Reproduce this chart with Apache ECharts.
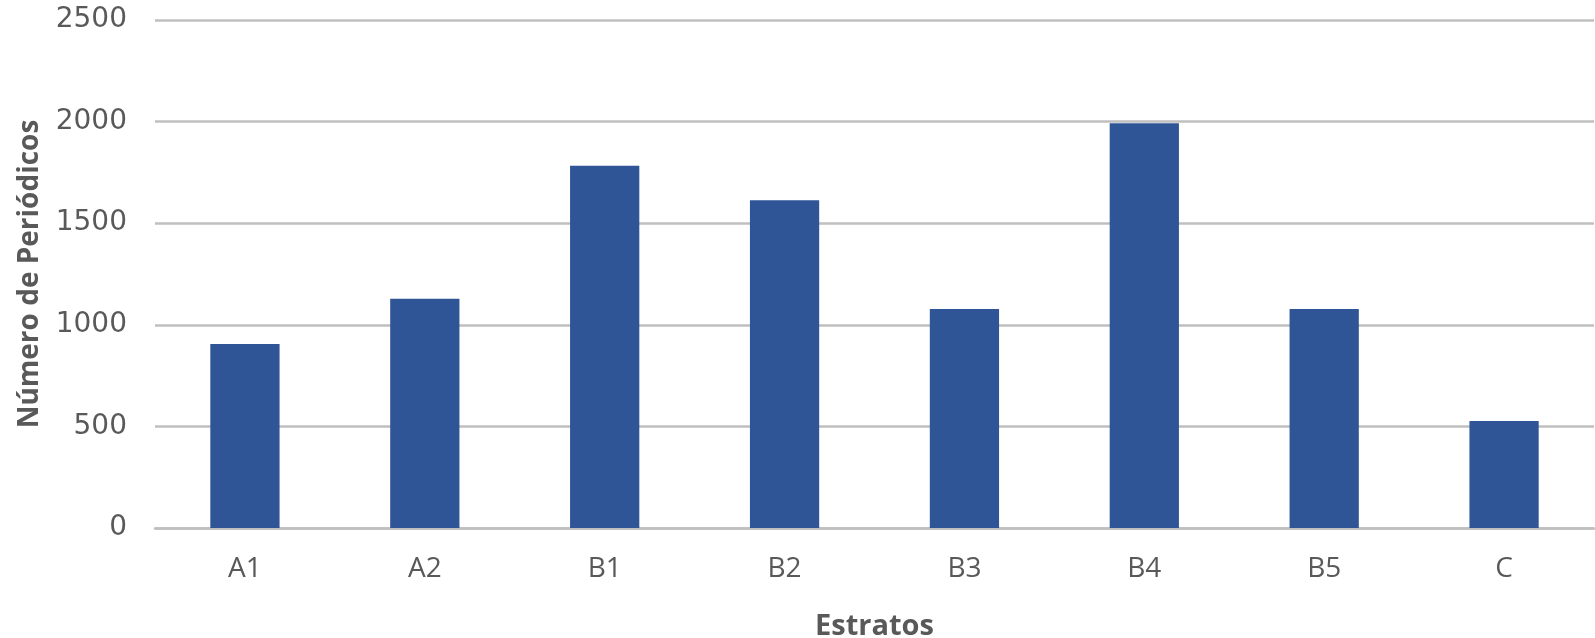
<!DOCTYPE html>
<html>
<head>
<meta charset="utf-8">
<script src="https://cdn.jsdelivr.net/npm/echarts@6/dist/echarts.min.js"></script>
<style>html,body{margin:0;padding:0;background:#fff;}#c{width:1595px;height:638px;}</style>
</head>
<body>
<div id="c"></div>
<script>
const categories = ['A1', 'A2', 'B1', 'B2', 'B3', 'B4', 'B5', 'C'];
const values = [905, 1128, 1783, 1613, 1078, 1992, 1078, 527];
const yAxisTitle = 'Número de Periódicos';
const xAxisTitle = 'Estratos';

const chart = echarts.init(document.getElementById('c'), null, {renderer: 'canvas'});
chart.setOption({
  animation: false,
  backgroundColor: '#ffffff',
  grid: {left: 155, right: 1, top: 20, bottom: 110, containLabel: false, outerBoundsMode: 'none'},
  xAxis: {
    type: 'category',
    data: categories,
    name: xAxisTitle,
    nameLocation: 'middle',
    nameGap: 84,
    nameTextStyle: {fontFamily: 'Open Sans', fontWeight: 'bold', fontSize: 29, color: '#595959'},
    axisLine: {show: true, lineStyle: {color: '#BFBFBF', width: 2.5}},
    axisTick: {show: false},
    axisLabel: {fontFamily: 'Open Sans', fontSize: 28, color: '#595959', margin: 27}
  },
  yAxis: {
    type: 'value',
    min: 0, max: 2500, interval: 500,
    name: yAxisTitle,
    nameLocation: 'middle',
    nameGap: 111,
    nameTextStyle: {fontFamily: 'Open Sans', fontWeight: 'bold', fontSize: 28, color: '#595959'},
    axisLine: {show: false},
    axisTick: {show: false},
    axisLabel: {fontFamily: 'DejaVu Sans', fontSize: 28, color: '#595959', margin: 28,
      formatter: function (v) { return String(v); }},
    splitLine: {lineStyle: {color: '#BFBFBF', width: 2.5}}
  },
  series: [{
    type: 'bar',
    data: values,
    barWidth: '38.5%',
    itemStyle: {color: '#2F5597'}
  }]
});
</script>
</body>
</html>
